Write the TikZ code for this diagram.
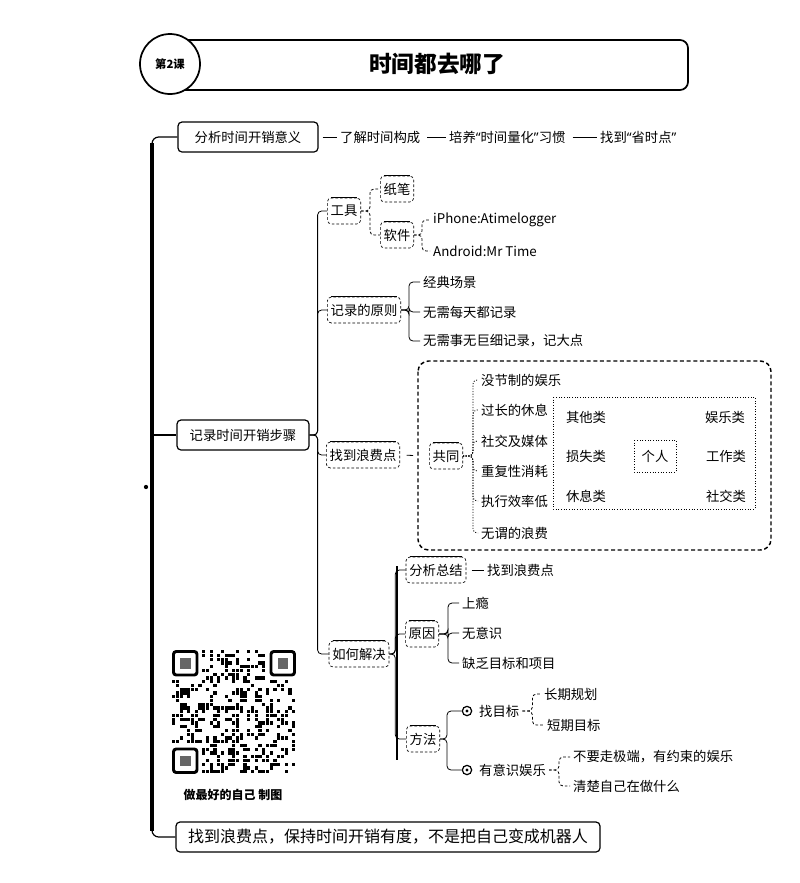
\documentclass[tikz,border=0pt]{standalone}
\usepackage{fontspec}
\setmainfont{Noto Sans CJK SC}
\newfontfamily\latq{Noto Sans}
\newcommand{\myLQ}{{\latq “}}
\newcommand{\myRQ}{{\latq ”}}
\usetikzlibrary{calc}
\begin{document}
\begin{tikzpicture}[x=0.75pt,y=-0.75pt,
  every node/.style={font=\fontsize{10}{12}\selectfont},
  mainbox/.style={draw, line width=0.9pt, rounded corners=3pt, minimum height=22.5pt, inner xsep=9pt, fill=white},
  subbox/.style={draw, line width=0.5pt, dash pattern=on 2pt off 1.5pt, rounded corners=3pt, minimum height=19.5pt, inner xsep=2.5pt},
  leaf/.style={anchor=west, inner xsep=2.2pt, inner ysep=2pt},
  plain/.style={inner sep=1pt},
  conn/.style={line width=0.6pt, rounded corners=3pt},
  dconn/.style={conn, dash pattern=on 2pt off 1.5pt},
  oconn/.style={conn, dash pattern=on 0.8pt off 1.2pt},
  grid/.style={line width=0.6pt, dash pattern=on 0.8pt off 1.2pt},
  icon/.style={circle, draw, line width=0.9pt, minimum size=7pt, inner sep=0pt},
]
\useasboundingbox (0,0) rectangle (800,883);

% ---------- title ----------
\node[draw, line width=1.3pt, rounded corners=6pt, minimum width=390pt, minimum height=37.5pt] (title) at (428,65) {};
\node[font=\bfseries\fontsize{17}{20}\selectfont] (ttext) at (437,64) {时间都去哪了};
\node[circle, draw, fill=white, line width=1.3pt, minimum size=45pt, inner sep=0pt, font=\bfseries\fontsize{8.5}{9}\selectfont] (badge) at (170,64) {第2课};

% ---------- main boxes ----------
\node[mainbox, minimum width=105pt] (b1) at (248,137) {分析时间开销意义};
\node[mainbox, minimum width=99pt] (b2) at (243,435) {记录时间开销步骤};
\node[mainbox, minimum width=315pt, font=\fontsize{12}{14}\selectfont] (b3) at (388,837) {找到浪费点，保持时间开销有度，不是把自己变成机器人};

\coordinate (sbot) at (152,837);
\coordinate (smid) at (152,435);
\draw[line width=0.9pt, rounded corners=5pt] (b1.west) -| (sbot) -- (b3.west);
\draw[line width=2.8pt] (152,143) -- (152,831);
\draw[line width=0.9pt] (smid) -- (b2.west);
\fill (146,487) circle (1.6pt);

% ---------- first line ----------
\node[leaf] (t1) at (337,137) {了解时间构成};
\node[leaf] (t2) at (446,137) {培养\myLQ 时间量化\myRQ 习惯};
\node[leaf] (t3) at (597,137) {找到\myLQ 省时点\myRQ};
\draw[conn, shorten <=3pt] (b1.east) -- (t1.west);
\draw[conn, shorten <=3pt] (t1.east) -- (t2.west);
\draw[conn, shorten <=3pt] (t2.east) -- (t3.west);

% ---------- level 2 ----------
\node[subbox] (gj) at (344,211) {工具};
\node[subbox] (yz) at (364,310) {记录的原则};
\node[subbox] (lf) at (363,455) {找到浪费点};
\node[subbox] (rh) at (359,654) {如何解决};
\foreach \n in {gj,yz,lf,rh} \draw[conn] (b2.east) -- ++(8,0) |- (\n.west);

% tools
\node[subbox] (zb) at (397,189) {纸笔};
\node[subbox] (rj) at (397,235) {软件};
\draw[dconn] (gj.east) -- ++(9,0) |- (zb.west);
\draw[dconn] (gj.east) -- ++(9,0) |- (rj.west);
\node[leaf] (ip) at (430,220) {iPhone:Atimelogger};
\node[leaf] (ad) at (430,251) {Android:Mr Time};
\draw[dconn] (rj.east) -- ++(8,0) |- (ip.west);
\draw[dconn] (rj.east) -- ++(8,0) |- (ad.west);

% principles
\node[leaf] (p1) at (420,282) {经典场景};
\node[leaf] (p2) at (420,312) {无需每天都记录};
\node[leaf] (p3) at (420,341) {无需事无巨细记录，记大点};
\foreach \n in {p1,p2,p3} \draw[conn] (yz.east) -- ++(8,0) |- (\n.west);

% waste points
\draw[line width=1.1pt, dash pattern=on 3pt off 2pt, rounded corners=8pt] (418,361) rectangle (771,550);
\node[subbox] (gt) at (446,456) {共同};
\draw[conn, shorten <=5pt, shorten >=12pt] (lf.east) -- (gt.west);
\node[leaf] (w1) at (478,380) {没节制的娱乐};
\node[leaf] (w2) at (478,410) {过长的休息};
\node[leaf] (w3) at (478,441) {社交及媒体};
\node[leaf] (w4) at (478,471) {重复性消耗};
\node[leaf] (w5) at (478,501) {执行效率低};
\node[leaf] (w6) at (478,533) {无谓的浪费};
\foreach \n in {w1,w2,w3,w4,w5,w6} \draw[oconn] (gt.east) -- ++(10,0) |- (\n.west);

\draw[grid] (553,397) rectangle (755,509);
\node[plain] (qt) at (586,417) {其他类};
\node[plain] (yl) at (725,417) {娱乐类};
\node[plain] (ss) at (586,456) {损失类};
\node[plain] (gr) at (655,456) {个人};
\node[plain] (gz) at (726,456) {工作类};
\node[plain] (xx) at (586,496) {休息类};
\node[plain] (sj) at (726,496) {社交类};
\draw[grid] (634,440) rectangle (676,472);

% solutions
\node[subbox] (fx) at (436,570) {分析总结};
\node[subbox] (yy) at (422,634) {原因};
\node[subbox] (ff) at (423,739) {方法};
\foreach \n in {fx,yy,ff} \draw[conn] (rh.east) -- ++(6,0) |- (\n.west);
\draw[line width=1.6pt] (397,566) -- (397,760);
\node[leaf] (zd) at (484,570) {找到浪费点};
\draw[conn, shorten <=4pt] (fx.east) -- (zd.west);

\node[leaf] (r1) at (459,603) {上瘾};
\node[leaf] (r2) at (459,633) {无意识};
\node[leaf] (r3) at (459,663) {缺乏目标和项目};
\foreach \n in {r1,r2,r3} \draw[conn] (yy.east) -- ++(9,0) |- (\n.west);

\node[icon] (ic1) at (467,711) {};
\node[icon] (ic2) at (467,770) {};
\fill (ic1) circle (1.3pt);
\fill (ic2) circle (1.3pt);
\node[leaf] (zm) at (476,711) {找目标};
\node[leaf] (yw) at (476,770) {有意识娱乐};
\draw[conn] (ff.east) -- ++(7,0) |- (ic1.west);
\draw[conn] (ff.east) -- ++(7,0) |- (ic2.west);

\node[leaf] (m1) at (541,694) {长期规划};
\node[leaf] (m2) at (544,725) {短期目标};
\draw[dconn] (zm.east) -- ++(10,0) |- (m1.west);
\draw[dconn] (zm.east) -- ++(10,0) |- (m2.west);

\node[leaf] (e1) at (570,757) {不要走极端，有约束的娱乐};
\node[leaf] (e2) at (570,786) {清楚自己在做什么};
\draw[dconn] (yw.east) -- ++(10,0) |- (e1.west);
\draw[dconn] (yw.east) -- ++(10,0) |- (e2.west);

% ---------- QR code ----------
\begin{scope}[shift={(172,650)}]
  \pgfmathsetseed{20231}
  \foreach \i in {0,...,32}{
    \foreach \j in {0,...,32}{
      \pgfmathtruncatemacro{\zone}{((\i<8)&&(\j<8))||((\i>24)&&(\j<8))||((\i<8)&&(\j>24))}
      \pgfmathtruncatemacro{\on}{rnd<0.4}
      \ifnum\zone=0 \ifnum\on=1
        \fill (\i*3.75,\j*3.75) rectangle ++(3.4,3.4);
      \fi\fi
    }
  }
  \foreach \fx/\fy in {0/0, 97.5/0, 0/97.5}{
    \draw[line width=2.2pt, rounded corners=2pt] (\fx+1.5,\fy+1.5) rectangle (\fx+25,\fy+25);
    \fill[black!60] (\fx+8,\fy+8) rectangle (\fx+18.5,\fy+18.5);
  }
\end{scope}
\node[font=\bfseries\fontsize{9}{11}\selectfont] (qrlabel) at (233,795) {做最好的自己 制图};

% top rules on sub boxes
\foreach \n in {gj,zb,rj,yz,lf,gt,rh,fx,yy,ff}
  \draw[line width=1.1pt] ([xshift=3pt]\n.north west) -- ([xshift=-3pt]\n.north east);
\end{tikzpicture}
\end{document}
